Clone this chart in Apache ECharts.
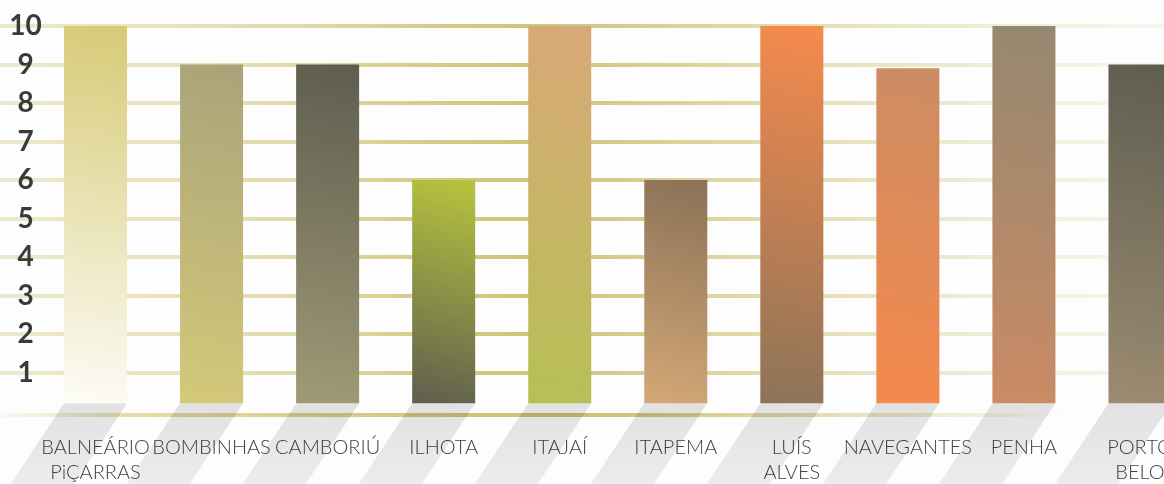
<!DOCTYPE html>
<html>
<head>
<meta charset="utf-8">
<script src="https://cdn.jsdelivr.net/npm/echarts@6/dist/echarts.min.js"></script>
<style>
html,body{margin:0;padding:0;background:#fdfdfd;}
#chart{width:1164px;height:484px;}
</style>
</head>
<body>
<div id="chart"></div>
<script>
// ---- data ----
const categories = ['BALNEÁRIO\nPiÇARRAS', 'BOMBINHAS', 'CAMBORIÚ', 'ILHOTA', 'ITAJAÍ', 'ITAPEMA', 'LUÍS\nALVES', 'NAVEGANTES', 'PENHA', 'PORTO\nBELO'];
const values = [10, 9, 9, 6, 10, 6, 10, 8.9, 10, 9];
const yTickLabels = ['', '1', '2', '3', '4', '5', '6', '7', '8', '9', '10'];

// ---- styles ----
const barColors = [
  ['#d7ca76', '#fdfcf7'],
  ['#aaa37a', '#d4c979'],
  ['#5e5d4f', '#a09a76'],
  ['#b8c53d', '#5e5e4f'],
  ['#d9a878', '#b6c055'],
  ['#8a7157', '#d4a876'],
  ['#f68a4d', '#8c7459'],
  ['#cc8c63', '#f5894c'],
  ['#958870', '#cb8b65'],
  ['#5e5e50', '#9c8b71']
];

const chart = echarts.init(document.getElementById('chart'));
const G = echarts.graphic;

const gridGrad = new G.LinearGradient(0, 0, 1164, 0, [
  {offset: 0, color: '#ede8cb'},
  {offset: 0.15, color: '#e8e2bd'},
  {offset: 0.26, color: '#e0d9a9'},
  {offset: 0.39, color: '#d3c982'},
  {offset: 0.45, color: '#cfc57a'},
  {offset: 0.52, color: '#d3ca88'},
  {offset: 0.6, color: '#dcd49c'},
  {offset: 0.77, color: '#ebe6c6'},
  {offset: 0.86, color: '#f0edd7'},
  {offset: 1, color: '#f8f7ef'}
], true);

const floorGrad = new G.LinearGradient(0, 0, 1164, 0, [
  {offset: 0, color: 'rgba(240,236,212,0.3)'},
  {offset: 0.05, color: '#f0ecd4'},
  {offset: 0.11, color: '#e4dda9'},
  {offset: 0.26, color: '#d8cf91'},
  {offset: 0.42, color: '#cdc276'},
  {offset: 0.52, color: '#cdc276'},
  {offset: 0.6, color: '#d6ce92'},
  {offset: 0.73, color: '#e6e0bb'},
  {offset: 0.86, color: '#f4f2e3'},
  {offset: 0.95, color: 'rgba(253,253,253,0)'},
  {offset: 1, color: 'rgba(253,253,253,0)'}
], true);

const BAR_W_RATIO = 0.543;
const GAP_BOTTOM = 8;
const SHADOW_H = 100;
const SLANT = 0.66;

function renderBar(params, api) {
  const i = api.value(0);
  const v = api.value(1);
  const top = api.coord([i, v]);
  const base = api.coord([i, 0]);
  const w = api.size([1, 0])[0] * BAR_W_RATIO;
  const x0 = top[0] - w / 2;
  const yb = base[1] - GAP_BOTTOM;
  const c = barColors[params.dataIndex];
  return {
    type: 'rect',
    shape: {x: x0, y: top[1], width: w, height: yb - top[1]},
    style: {
      fill: new G.LinearGradient(1, 0, 0, 1, [
        {offset: 0, color: c[0]},
        {offset: 1, color: c[1]}
      ])
    }
  };
}

function renderShadow(params, api) {
  const i = api.value(0);
  const base = api.coord([i, 0]);
  const w = api.size([1, 0])[0] * BAR_W_RATIO;
  const x0 = base[0] - w / 2, x1 = base[0] + w / 2;
  const yb = base[1] - GAP_BOTTOM;
  const d = SLANT * SHADOW_H;
  return {
    type: 'polygon',
    shape: {points: [[x0, yb], [x1, yb], [x1 - d, yb + SHADOW_H], [x0 - d, yb + SHADOW_H]]},
    style: {
      fill: new G.LinearGradient(0, 0, 0, 1, [
        {offset: 0, color: 'rgba(0,0,0,0.11)'},
        {offset: 1, color: 'rgba(0,0,0,0.06)'}
      ])
    }
  };
}

const seriesData = values.map((v, i) => [i, v]);

chart.setOption({
  backgroundColor: '#fdfdfd',
  animation: false,
  grid: [
    {left: 37.5, right: -34, top: 26, bottom: 72.8, outerBoundsMode: 'none', containLabel: false},
    {left: 0, right: 0, top: 26, bottom: 111.3, outerBoundsMode: 'none', containLabel: false}
  ],
  xAxis: [
    {
      type: 'category', gridIndex: 0, data: categories,
      axisLine: {show: false}, axisTick: {show: false}, splitLine: {show: false},
      axisLabel: {
        interval: 0, margin: 24, color: '#424242',
        fontFamily: 'Lato', fontWeight: 300, fontSize: 20, lineHeight: 25
      }
    },
    {type: 'value', gridIndex: 1, show: false, min: 0, max: 1}
  ],
  yAxis: [
    {
      type: 'value', gridIndex: 0, min: 0, max: 10, interval: 1,
      axisLine: {show: false}, axisTick: {show: false}, splitLine: {show: false},
      axisLabel: {
        margin: 12, align: 'center', color: '#3a3a3a',
        fontFamily: 'Lato', fontWeight: 'bold', fontSize: 28,
        formatter: v => yTickLabels[v]
      }
    },
    {
      type: 'value', gridIndex: 1, min: 1, max: 10, interval: 1,
      axisLine: {show: false}, axisTick: {show: false}, axisLabel: {show: false},
      splitLine: {show: true, lineStyle: {width: 4, color: gridGrad}}
    }
  ],
  graphic: [
    {type: 'rect', z: 1, shape: {x: 0, y: 413, width: 1164, height: 4}, style: {fill: floorGrad}}
  ],
  series: [
    {
      type: 'custom', xAxisIndex: 0, yAxisIndex: 0, z: 3,
      renderItem: renderShadow, data: seriesData, silent: true
    },
    {
      type: 'custom', xAxisIndex: 0, yAxisIndex: 0, z: 4,
      renderItem: renderBar, data: seriesData
    }
  ]
});
</script>
</body>
</html>
